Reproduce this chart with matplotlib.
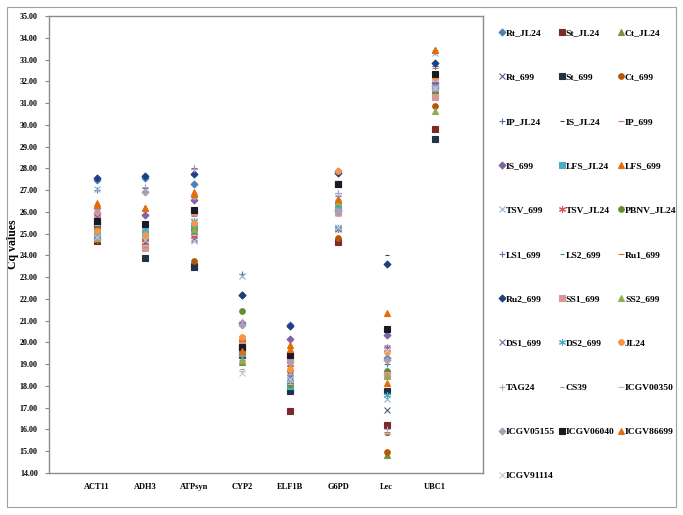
import matplotlib
matplotlib.use("Agg")
import matplotlib.pyplot as plt
from matplotlib.patches import Rectangle

plt.rcParams['font.family'] = ['Liberation Serif', 'DejaVu Serif']
plt.rcParams['font.weight'] = 'bold'

genes = ["ACT11", "ADH3", "ATPsyn", "CYP2", "ELF1B", "G6PD", "Lec", "UBC1"]

# Cq values per sample, in gene order above
Rt_JL24 = [27.45, 27.55, 27.30, 22.20, 20.80, 27.90, 19.30, 31.80]
St_JL24 = [24.65, 24.40, 23.50, 19.40, 16.85, 24.60, 16.20, 29.80]
Ct_JL24 = [25.20, 24.90, 25.10, 19.10, 18.30, 26.40, 14.85, 31.50]
Rt_699 = [24.75, 24.60, 24.80, 19.30, 18.35, 25.25, 16.90, 31.90]
St_699 = [25.45, 23.90, 23.45, 19.70, 17.75, 27.30, 17.75, 29.35]
Ct_699 = [25.30, 24.70, 23.75, 20.10, 18.70, 24.80, 14.95, 30.85]
IP_JL24 = [27.00, 27.10, 27.95, 23.15, 18.90, 26.75, 19.00, 32.70]
IS_JL24 = [25.60, 24.60, 25.40, 19.60, 18.20, 26.30, 24.00, 32.20]
IP_699 = [25.70, 25.20, 25.80, 20.00, 19.20, 25.90, 15.80, 32.60]
IS_699 = [25.95, 25.85, 26.55, 20.90, 20.15, 26.10, 20.35, 31.90]
LFS_JL24 = [24.95, 25.05, 25.30, 19.50, 18.00, 26.15, 18.55, 31.60]
LFS_699 = [26.40, 26.20, 26.90, 20.20, 19.90, 26.55, 21.35, 33.45]
TSV_699 = [27.05, 25.10, 25.60, 23.05, 18.60, 26.70, 17.40, 33.30]
TSV_JL24 = [24.70, 24.50, 24.90, 19.70, 19.00, 25.20, 19.70, 32.20]
PBNV_JL24 = [25.15, 24.85, 25.15, 21.45, 18.10, 26.40, 18.70, 31.45]
LS1_699 = [25.00, 26.95, 28.00, 19.90, 19.40, 26.85, 19.80, 32.70]
LS2_699 = [25.30, 24.60, 25.00, 19.50, 18.80, 26.00, 15.75, 32.30]
Ru1_699 = [25.20, 24.80, 25.50, 20.30, 18.90, 26.50, 15.90, 32.30]
Ru2_699 = [27.55, 27.65, 27.75, 22.20, 20.75, 27.80, 23.60, 32.85]
SS1_699 = [25.85, 24.35, 26.00, 19.90, 19.20, 26.00, 18.50, 31.30]
SS2_699 = [24.80, 25.00, 25.20, 19.20, 19.60, 26.45, 18.45, 30.65]
DS1_699 = [25.75, 24.70, 24.70, 19.60, 18.40, 25.20, 19.75, 31.85]
DS2_699 = [24.90, 25.20, 25.60, 19.80, 18.30, 25.25, 17.60, 31.75]
JL24 = [25.10, 24.95, 25.50, 20.25, 18.80, 27.90, 19.55, 32.20]
TAG24 = [26.10, 27.15, 27.95, 21.00, 18.20, 26.85, 16.00, 33.35]
CS39 = [24.75, 24.40, 25.00, 18.80, 18.50, 25.90, 19.90, 32.40]
ICGV00350 = [25.40, 24.50, 24.95, 18.70, 18.10, 25.80, 15.85, 32.00]
ICGV05155 = [26.20, 26.90, 26.75, 20.80, 19.10, 26.05, 19.20, 31.70]
ICGV06040 = [25.60, 25.45, 26.10, 19.80, 19.40, 27.30, 20.60, 32.35]
ICGV86699 = [26.30, 26.20, 26.80, 19.60, 19.70, 26.60, 18.15, 33.45]
ICGV91114 = [24.85, 24.70, 24.65, 18.60, 18.30, 25.30, 19.65, 31.70]

names = ["Rt_JL24", "St_JL24", "Ct_JL24", "Rt_699", "St_699", "Ct_699",
         "IP_JL24", "IS_JL24", "IP_699", "IS_699", "LFS_JL24", "LFS_699",
         "TSV_699", "TSV_JL24", "PBNV_JL24", "LS1_699", "LS2_699", "Ru1_699",
         "Ru2_699", "SS1_699", "SS2_699", "DS1_699", "DS2_699", "JL24",
         "TAG24", "CS39", "ICGV00350", "ICGV05155", "ICGV06040", "ICGV86699",
         "ICGV91114"]
values = [Rt_JL24, St_JL24, Ct_JL24, Rt_699, St_699, Ct_699, IP_JL24, IS_JL24,
          IP_699, IS_699, LFS_JL24, LFS_699, TSV_699, TSV_JL24, PBNV_JL24,
          LS1_699, LS2_699, Ru1_699, Ru2_699, SS1_699, SS2_699, DS1_699,
          DS2_699, JL24, TAG24, CS39, ICGV00350, ICGV05155, ICGV06040,
          ICGV86699, ICGV91114]

star = (6, 2, 0)
styles = [
    ("D", "#4F81BD", 3.5), ("s", "#7B2A2A", 4), ("^", "#77933C", 4),
    ("x", "#5A5A8A", 4), ("s", "#1F3347", 4), ("o", "#B65708", 4),
    ("+", "#4F6FA0", 5), ("_", "#404040", 3), ("_", "#C08060", 5),
    ("D", "#8064A2", 3.5), ("s", "#4BACC6", 4), ("^", "#E46C0A", 4),
    ("x", "#95B3D7", 4), (star, "#D9534F", 5), ("o", "#6A8A30", 4),
    ("+", "#8064A2", 5), ("_", "#31859C", 3), ("_", "#E46C0A", 5),
    ("D", "#1F3F7F", 3.5), ("s", "#D99694", 4), ("^", "#8FAF50", 4),
    ("x", "#8064A2", 4), (star, "#4BACC6", 5), ("o", "#F79646", 4),
    ("+", "#B3A2C7", 5), ("_", "#999999", 3), ("_", "#BBBBBB", 5),
    ("D", "#A9A0B8", 3.5), ("s", "#1A1A24", 4), ("^", "#E46C0A", 4),
    ("x", "#CCC1DA", 4),
]

xpos = list(range(1, len(genes) + 1))

fig = plt.figure(figsize=(6.83, 5.15), dpi=100)
ax = fig.add_axes([49 / 683, 1 - 473 / 515, 434 / 683, 457 / 515])

handles = []
for name, vals, (mk, col, ms) in zip(names, values, styles):
    h, = ax.plot(xpos, vals, linestyle="none", marker=mk, markersize=ms,
                 color=col, markeredgecolor=col, markeredgewidth=0.8,
                 label=name)
    handles.append(h)

ax.set_xlim(0, 9)
ax.set_ylim(14, 35)
ax.set_xticks(xpos)
ax.set_xticklabels(genes, fontsize=6, fontweight="bold")
ax.tick_params(axis="x", length=0, pad=7)
ax.set_yticks(range(14, 36))
ax.set_yticklabels(["%.2f" % v for v in range(14, 36)], fontsize=5.8,
                   fontweight="bold")
ax.tick_params(axis="y", length=3, color="#888888", pad=5)
ax.set_ylabel("Cq values", fontsize=8.5, fontweight="bold")
ax.yaxis.set_label_coords(-30 / 434, 0.5)
for sp in ax.spines.values():
    sp.set_color("#8C8C8C")
    sp.set_linewidth(1.0)

# legend in row-major order like the original
order = list(range(0, 31, 3)) + list(range(1, 31, 3)) + list(range(2, 31, 3))
leg = fig.legend([handles[i] for i in order], [names[i] for i in order],
                 ncol=3, loc="upper left", bbox_to_anchor=(495 / 683, 1 - 25 / 515),
                 frameon=False, fontsize=6.8, handlelength=0.6, handletextpad=0.1,
                 columnspacing=0.45, labelspacing=3.78, borderaxespad=0)
for t in leg.get_texts():
    t.set_fontweight("bold")

fig.add_artist(Rectangle((7 / 683, 8 / 515), 669 / 683, 500 / 515,
                         transform=fig.transFigure, fill=False,
                         edgecolor="#A0A0A0", linewidth=0.8))

fig.savefig("out.png", dpi=100)
